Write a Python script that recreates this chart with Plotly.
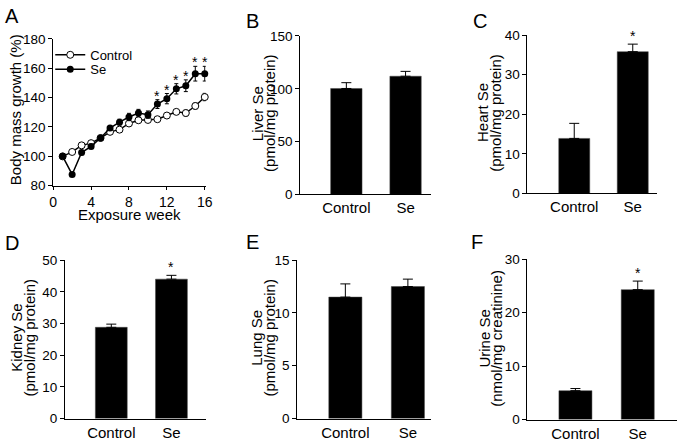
import plotly.graph_objects as go

# panel A: body mass growth (%) by exposure week
weeks = list(range(1, 17))
ctrl_growth = [100, 103, 107.5, 109, 112.5, 116.7, 118.2, 122.4, 124.6, 124.8, 125.3, 127.8, 130.3, 129.5, 134.3, 140.4]
ctrl_err = [1, 1, 1, 1, 1, 1, 1.5, 1.5, 1.5, 1.5, 1.5, 1.5, 1.5, 2, 2, 2.5]
se_growth = [100, 87.7, 102.6, 106.8, 112.5, 119.3, 123.3, 126.8, 129.5, 128.4, 135.6, 139.3, 146, 148.1, 156.3, 156.3]
se_err = [1, 1, 1.5, 1.5, 1, 1.5, 2, 2.5, 2.5, 2.5, 3, 3.5, 3.5, 4, 5, 5]
sig_weeks = [11, 12, 13, 14, 15, 16]

# panels B-F: tissue Se
groups = ["Control", "Se"]
liver = [100.3, 111.9]
liver_err = [5.5, 4.6]
heart = [13.9, 35.8]
heart_err = [3.8, 1.9]
kidney = [28.8, 44.0]
kidney_err = [1.0, 1.2]
lung = [11.5, 12.5]
lung_err = [1.25, 0.7]
urine = [5.4, 24.3]
urine_err = [0.4, 1.6]

W, H = 684, 443
FONT = "Liberation Sans, Arial, sans-serif"

def fx(p):
    return p / W

def fy(p):
    return 1 - p / H

fig = go.Figure()
annotations = []

# ---- panel A (each series gets its own legend box so the rows sit close)
fig.add_trace(go.Scatter(
    x=weeks, y=ctrl_growth, name="Control", mode="lines+markers", legend="legend",
    line=dict(color="black", width=1.5),
    marker=dict(symbol="circle", size=7, color="white", line=dict(color="black", width=1)),
    error_y=dict(type="data", array=ctrl_err, color="black", thickness=1, width=2),
    cliponaxis=False, xaxis="x", yaxis="y"))
fig.add_trace(go.Scatter(
    x=weeks, y=se_growth, name="Se", mode="lines+markers", legend="legend2",
    line=dict(color="black", width=1.5),
    marker=dict(symbol="circle", size=7, color="black"),
    error_y=dict(type="data", array=se_err, color="black", thickness=1, width=2),
    cliponaxis=False, xaxis="x", yaxis="y"))
for w in sig_weeks:
    annotations.append(dict(x=w, y=se_growth[w - 1] + se_err[w - 1], xref="x", yref="y",
                            text="*", showarrow=False, yanchor="bottom", yshift=-6,
                            font=dict(size=14, color="black", family=FONT)))

# ---- bar panels
panels = [
    # vals, errs, star, axis id, title lines
    (liver, liver_err, False, 2, ("Liver Se", "(pmol/mg protein)")),
    (heart, heart_err, True, 3, ("Heart Se", "(pmol/mg protein)")),
    (kidney, kidney_err, True, 4, ("Kidney Se", "(pmol/mg protein)")),
    (lung, lung_err, False, 5, ("Lung Se", "(pmol/mg protein)")),
    (urine, urine_err, True, 6, ("Urine Se", "(nmol/mg creatinine)")),
]
for vals, errs, star, n, _ in panels:
    fig.add_trace(go.Bar(
        x=groups, y=vals, width=0.53,
        marker=dict(color="black", line=dict(color="#444", width=0.5)),
        error_y=dict(type="data", array=errs, arrayminus=[0, 0], symmetric=False,
                     color="black", thickness=1, width=5),
        showlegend=False, xaxis="x%d" % n, yaxis="y%d" % n))
    if star:
        annotations.append(dict(x=groups[1], y=vals[1] + errs[1], xref="x%d" % n, yref="y%d" % n,
                                text="*", showarrow=False, yanchor="bottom", yshift=-2,
                                font=dict(size=14, color="black", family=FONT)))

axis_common = dict(showline=True, linecolor="black", linewidth=1, showgrid=False,
                   zeroline=False, ticks="outside", ticklen=4, tickwidth=1, tickcolor="black",
                   tickfont=dict(size=13.5, color="black", family=FONT))

# x domain px, x range, y domain px (top, bottom), y range, dtick
geo = {
    1: ((50, 205), [0, 16.1], (33, 185), [80, 180], 20),
    2: ((301, 434), [-0.78, 1.43], (30, 194), [0, 150], 50),
    3: ((532, 664), [-0.8, 1.42], (29, 193), [0, 40], 10),
    4: ((62, 205), [-0.77, 1.57], (262, 426), [0, 50], 10),
    5: ((298, 434), [-0.77, 1.37], (262, 426), [0, 15], 5),
    6: ((532, 684), [-0.77, 1.63], (261, 427), [0, 30], 10),
}
layout = {}
for n, (xd, xr, yd, yr, dt) in geo.items():
    xa = "xaxis" if n == 1 else "xaxis%d" % n
    ya = "yaxis" if n == 1 else "yaxis%d" % n
    xkw = dict(axis_common, domain=[fx(xd[0]), fx(xd[1])], range=xr,
               anchor="y" if n == 1 else "y%d" % n)
    if n == 1:
        xkw.update(tickvals=[0, 4, 8, 12, 16], ticklen=3,
                   tickfont=dict(size=14, color="black", family=FONT))
    else:
        xkw.update(ticks="", type="category", tickfont=dict(size=15, color="black", family=FONT))
    layout[xa] = xkw
    layout[ya] = dict(axis_common, domain=[fy(yd[1]), fy(yd[0])], range=yr, dtick=dt,
                      anchor="x" if n == 1 else "x%d" % n)

title_font = dict(size=15, color="black", family=FONT)
annotations.append(dict(x=fx(128), y=fy(215), xref="paper", yref="paper", text="Exposure week",
                        showarrow=False, xanchor="center", yanchor="middle", font=title_font))

# y titles: one annotation per line (x centre px, y centre px)
ytitles = [
    (12, 106, "Body mass growth (%)"),
    (257, 110, panels[0][4][0]), (270, 110, panels[0][4][1]),
    (486.5, 109, panels[1][4][0]), (499.5, 109, panels[1][4][1]),
    (12.5, 342, panels[2][4][0]), (25.5, 342, panels[2][4][1]),
    (256.5, 342, panels[3][4][0]), (269.5, 342, panels[3][4][1]),
    (488, 343, panels[4][4][0]), (500.5, 343, panels[4][4][1]),
]
for xp, yp, txt in ytitles:
    annotations.append(dict(x=fx(xp), y=fy(yp), xref="paper", yref="paper",
                            text=txt, textangle=-90, showarrow=False,
                            xanchor="center", yanchor="middle", font=title_font))

letters = [("A", -1, -4), ("B", 244, 1), ("C", 475, 1), ("D", -1, 231), ("E", 244, 230), ("F", 473, 230)]
for t, xp, yp in letters:
    annotations.append(dict(x=fx(xp), y=fy(yp), xref="paper", yref="paper", text=t,
                            showarrow=False, xanchor="left", yanchor="top",
                            font=dict(size=20, color="black", family=FONT)))

leg = dict(xanchor="left", yanchor="top", bgcolor="rgba(0,0,0,0)",
           font=dict(size=13, color="black", family=FONT), itemwidth=30)
fig.update_layout(
    width=W, height=H, margin=dict(l=0, r=0, t=0, b=0),
    paper_bgcolor="white", plot_bgcolor="white",
    font=dict(family=FONT, color="black"),
    showlegend=True,
    legend=dict(leg, x=fx(47), y=fy(34)),
    legend2=dict(leg, x=fx(47), y=fy(49)),
    annotations=annotations,
    **layout,
)

fig.write_html("out.html", config={"displayModeBar": False},
               post_script="document.body.style.margin='0';document.body.style.overflow='hidden';")
